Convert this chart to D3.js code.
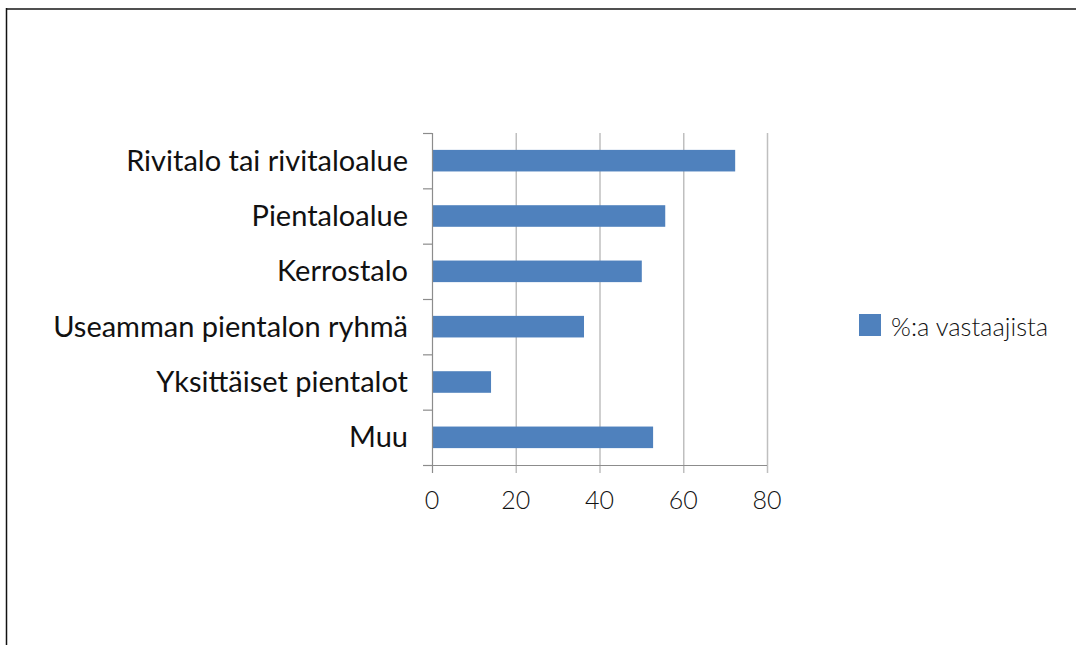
<!DOCTYPE html>
<html><head><meta charset="utf-8">
<script src="https://cdn.jsdelivr.net/npm/d3@7"></script>
<style>body{margin:0;background:#fff}svg{display:block}</style>
</head><body>
<svg id="c" width="1076" height="645"></svg>
<script>
const categories = ["Rivitalo tai rivitaloalue","Pientaloalue","Kerrostalo","Useamman pientalon ryhmä","Yksittäiset pientalot","Muu"];
const values = [72.4, 55.7, 50.1, 36.3, 14.1, 52.8];
const xTicks = [0, 20, 40, 60, 80];
const seriesName = "%:a vastaajista";

const svg = d3.select("#c");
const font = "Lato, 'Open Sans', sans-serif";
// frame
svg.append("line").attr("x1",6).attr("x2",1076).attr("y1",9).attr("y2",9).attr("stroke","#505050").attr("stroke-width",2);
svg.append("line").attr("x1",6.5).attr("x2",6.5).attr("y1",8).attr("y2",645).attr("stroke","#111").attr("stroke-width",1.5);

const x = d3.scaleLinear().domain([0,80]).range([432,767]);
const y = d3.scaleBand().domain(categories).range([133,465]).paddingInner(0.61).paddingOuter(0.305);
const yb = d3.scaleBand().domain(categories).range([133,465]);

// gridlines
svg.append("g").selectAll("line").data(xTicks.slice(1)).join("line")
  .attr("x1",d=>x(d)+0.5).attr("x2",d=>x(d)+0.5).attr("y1",133).attr("y2",473)
  .attr("stroke","#bfbfbf").attr("stroke-width",1.5);

// bars
svg.append("g").selectAll("rect").data(values).join("rect")
  .attr("x",x(0)).attr("y",(d,i)=>y(categories[i]))
  .attr("width",d=>x(d)-x(0)).attr("height",y.bandwidth())
  .attr("fill","#4F81BD");

// y axis line and ticks
const ax = svg.append("g").attr("stroke","#8c8c8c").attr("stroke-width",1.2);
ax.append("line").attr("x1",432.5).attr("x2",432.5).attr("y1",133).attr("y2",473);
const yEdges = categories.map(c=>yb(c)).concat([465]);
ax.selectAll(".yt").data(yEdges).join("line").attr("class","yt")
  .attr("x1",423).attr("x2",432).attr("y1",d=>d+0.5).attr("y2",d=>d+0.5);
ax.append("line").attr("x1",423).attr("x2",767).attr("y1",465.5).attr("y2",465.5);

// category labels
svg.append("g").selectAll("text").data(categories).join("text")
  .attr("x",408).attr("y",d=>yb(d)+yb.bandwidth()/2).attr("dy","0.35em")
  .attr("text-anchor","end").attr("font-family",font).attr("font-size",29)
  .attr("fill","#111").text(d=>d);

// x tick labels
svg.append("g").selectAll("text").data(xTicks).join("text")
  .attr("x",d=>x(d)).attr("y",500).attr("dy","0.35em")
  .attr("text-anchor","middle").attr("font-family",font).attr("font-size",25).attr("font-weight",300)
  .attr("fill","#111").text(d=>d);

// legend
svg.append("rect").attr("x",859).attr("y",314).attr("width",22).attr("height",22).attr("fill","#4F81BD");
svg.append("text").attr("x",891).attr("y",327).attr("dy","0.35em")
  .attr("font-family",font).attr("font-size",25.5).attr("font-weight",300).attr("fill","#111").text(seriesName);
</script>
</body></html>
